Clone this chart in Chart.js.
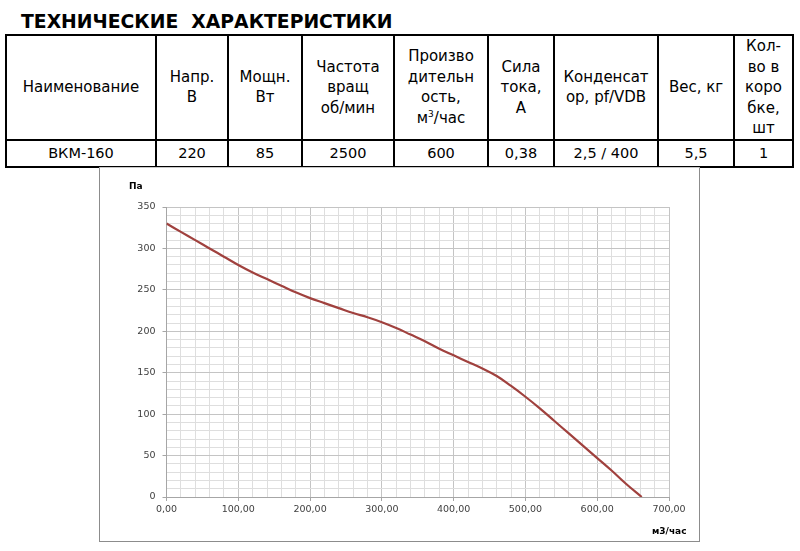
<!DOCTYPE html>
<html>
<head>
<meta charset="utf-8">
<script src="https://cdn.jsdelivr.net/npm/chart.js@4"></script>
<style>
  body { margin: 0; background: #fff; font-family: "DejaVu Sans", sans-serif; color: #000; }
  #page { position: relative; width: 800px; height: 551px; overflow: hidden; }
  #title { position: absolute; left: 21px; top: 12px; font-weight: bold; font-size: 18.8px; line-height: 20px; white-space: pre; }
  table { position: absolute; left: 5px; top: 34px; border-collapse: collapse; table-layout: fixed; }
  td { border: 2px solid #000; text-align: center; vertical-align: middle; padding: 0 2px; font-size: 15px; line-height: 20.5px; }
  td sup { font-size: 9px; line-height: 0; vertical-align: 6px; }
  tr.head td { height: 100px; }
  tr.row td { height: 25px; font-size: 14.5px; line-height: 18px; }
  #frame { position: absolute; left: 99px; top: 167px; width: 599px; height: 373px; border: 1px solid #8c8c8c; border-top-color: #c8c8c8; }
  #chart { position: absolute; left: 99px; top: 167px; }
  .lbl { position: absolute; font-weight: bold; font-size: 9px; color: #000; }
</style>
</head>
<body>
<div id="page">
  <div id="title">ТЕХНИЧЕСКИЕ  ХАРАКТЕРИСТИКИ</div>
  <table>
    <colgroup>
      <col style="width:150px"><col style="width:72px"><col style="width:74px"><col style="width:92px">
      <col style="width:94px"><col style="width:66px"><col style="width:104px"><col style="width:76px"><col style="width:59px">
    </colgroup>
    <tr class="head">
      <td>Наименование</td>
      <td>Напр.<br>В</td>
      <td>Мощн.<br>Вт</td>
      <td>Частота<br>вращ<br>об/мин</td>
      <td>Произво<br>дительн<br>ость,<br>м<sup>3</sup>/час</td>
      <td>Сила<br>тока,<br>А</td>
      <td>Конденсат<br>ор, pf/VDB</td>
      <td>Вес, кг</td>
      <td>Кол-<br>во в<br>коро<br>бке,<br>шт</td>
    </tr>
    <tr class="row">
      <td>ВКМ-160</td><td>220</td><td>85</td><td>2500</td><td>600</td><td>0,38</td><td>2,5 / 400</td><td>5,5</td><td>1</td>
    </tr>
  </table>
  <div id="frame"></div>
  <canvas id="chart" width="600" height="374"></canvas>
  <div class="lbl" style="left:129px; top:181px;">Па</div>
  <div class="lbl" style="left:652px; top:526px;">м3/час</div>
</div>
<script>
// fan curve: flow (m3/h) vs pressure (Pa)
const flow = [0, 20, 40, 60, 80, 100, 120, 140, 160, 180, 200, 220, 240, 260, 280, 300, 320, 340,
              360, 380, 400, 420, 440, 460, 480, 500, 520, 540, 560, 580, 600, 620, 640, 662];
const pressure = [330, 320, 310, 300, 290, 280, 271, 263, 255, 247, 240, 234, 228, 222, 217, 211, 204, 196,
                  188, 179, 171, 163, 155, 146, 134, 121, 107, 92, 77, 62, 47, 32, 16, 0];
const xTicks = [0, 100, 200, 300, 400, 500, 600, 700];
const yTicks = [0, 50, 100, 150, 200, 250, 300, 350];

const points = flow.map((f, i) => ({ x: f, y: pressure[i] }));

const tickFont = { family: 'DejaVu Sans', size: 9.5 };
const isMajorX = v => xTicks.includes(v);
const isMajorY = v => yTicks.includes(v);

new Chart(document.getElementById('chart'), {
  type: 'line',
  data: {
    datasets: [{
      data: points,
      borderColor: '#a0413e',
      borderWidth: 2.2,
      pointRadius: 0,
      tension: 0.4,
      fill: false
    }]
  },
  options: {
    responsive: false,
    animation: false,
    layout: { padding: { top: 40, right: 30, left: 0, bottom: 0 } },
    plugins: { legend: { display: false }, tooltip: { enabled: false } },
    scales: {
      x: {
        type: 'linear',
        min: 0, max: 700,
        afterFit: s => { s.height = 44; },
        border: { color: '#a6a6a6' },
        grid: {
          color: c => isMajorX(c.tick.value) ? '#c4c4c4' : '#dedede',
          tickLength: 4,
          tickColor: c => isMajorX(c.tick.value) ? '#a6a6a6' : 'rgba(0,0,0,0)'
        },
        ticks: {
          stepSize: 20, autoSkip: false, maxRotation: 0, padding: 3,
          color: '#404040', font: tickFont,
          callback: v => isMajorX(v) ? v.toFixed(2).replace('.', ',') : ''
        }
      },
      y: {
        min: 0, max: 350,
        afterFit: s => { s.width = 67.5; },
        border: { color: '#a6a6a6' },
        grid: {
          color: c => isMajorY(c.tick.value) ? '#c4c4c4' : '#dedede',
          tickLength: 4,
          tickColor: c => isMajorY(c.tick.value) ? '#a6a6a6' : 'rgba(0,0,0,0)'
        },
        ticks: {
          stepSize: 10, autoSkip: false, padding: 7,
          color: '#404040', font: tickFont,
          callback: v => isMajorY(v) ? String(v) : ''
        }
      }
    }
  }
});
</script>
</body>
</html>
